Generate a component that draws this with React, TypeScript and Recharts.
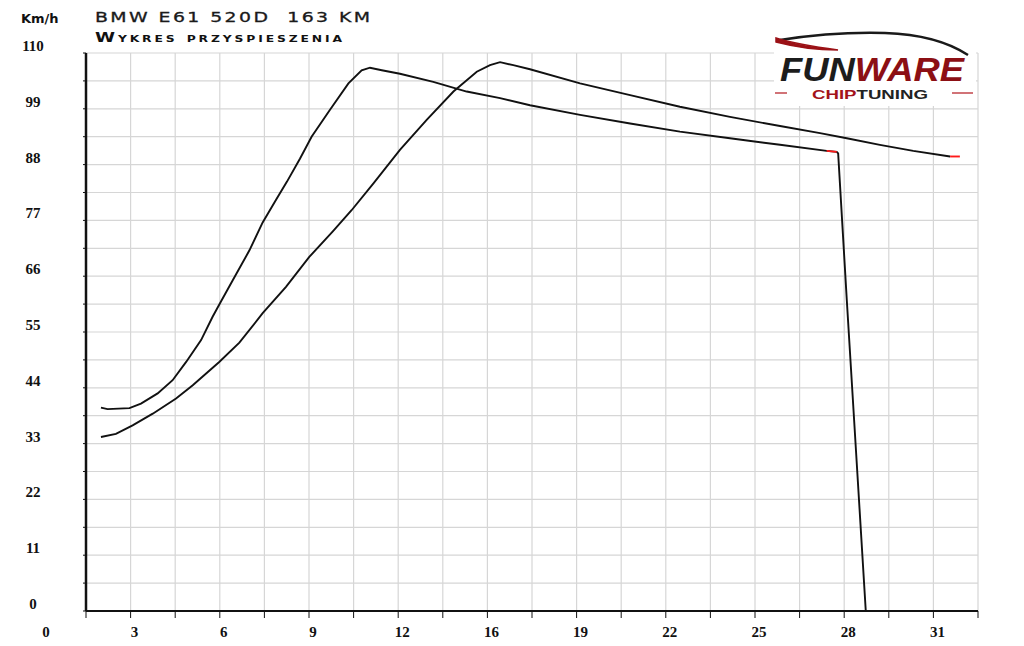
import React from "react";
import { CartesianGrid, Line, LineChart, XAxis, YAxis } from "recharts";

const accelA = [
  { t: 2.07, v: 40.1 }, { t: 2.3, v: 39.8 }, { t: 3.06, v: 40.0 }, { t: 3.46, v: 40.9 },
  { t: 4.04, v: 42.9 }, { t: 4.56, v: 45.5 }, { t: 5.03, v: 49.1 }, { t: 5.55, v: 53.4 },
  { t: 5.95, v: 58.0 }, { t: 6.24, v: 61.0 }, { t: 6.65, v: 65.2 }, { t: 7.23, v: 71.1 },
  { t: 7.69, v: 76.6 }, { t: 8.15, v: 81.0 }, { t: 8.53, v: 84.6 }, { t: 8.99, v: 89.2 },
  { t: 9.39, v: 93.5 }, { t: 10.03, v: 98.8 }, { t: 10.67, v: 104.0 }, { t: 11.13, v: 106.6 },
  { t: 11.42, v: 107.1 }, { t: 11.83, v: 106.6 }, { t: 12.46, v: 105.9 }, { t: 13.62, v: 104.3 },
  { t: 14.78, v: 102.4 }, { t: 15.94, v: 101.1 }, { t: 16.98, v: 99.7 }, { t: 18.72, v: 97.8 },
  { t: 20.46, v: 96.1 }, { t: 22.19, v: 94.5 }, { t: 23.93, v: 93.2 }, { t: 25.67, v: 91.9 },
  { t: 27.29, v: 90.7 }, { t: 27.64, v: 90.5 }, { t: 27.69, v: 90.2 }, { t: 27.99, v: 61.3 },
  { t: 28.65, v: 0 },
];

const accelB = [
  { t: 2.07, v: 34.3 }, { t: 2.59, v: 34.9 }, { t: 3.17, v: 36.6 }, { t: 3.87, v: 38.9 },
  { t: 4.68, v: 41.9 }, { t: 5.26, v: 44.5 }, { t: 6.18, v: 49.1 }, { t: 6.88, v: 52.9 },
  { t: 7.69, v: 58.7 }, { t: 8.5, v: 63.9 }, { t: 9.31, v: 69.8 }, { t: 10.12, v: 74.8 },
  { t: 10.78, v: 79.0 }, { t: 11.54, v: 84.3 }, { t: 12.46, v: 90.9 }, { t: 13.39, v: 96.8 },
  { t: 14.32, v: 102.4 }, { t: 15.13, v: 106.3 }, { t: 15.59, v: 107.6 }, { t: 15.94, v: 108.2 },
  { t: 16.4, v: 107.6 }, { t: 16.98, v: 106.8 }, { t: 18.72, v: 104.0 }, { t: 20.46, v: 101.7 },
  { t: 22.19, v: 99.4 }, { t: 23.93, v: 97.4 }, { t: 25.67, v: 95.6 }, { t: 27.06, v: 94.2 },
  { t: 27.99, v: 93.2 }, { t: 29.14, v: 91.9 }, { t: 30.3, v: 90.7 }, { t: 31.58, v: 89.6 },
];

// czerwone koncowki krzywych
const accelAEnd = [{ t: 27.29, v: 90.7 }, { t: 27.64, v: 90.5 }];
const accelBEnd = [{ t: 31.58, v: 89.6 }, { t: 31.92, v: 89.6 }];

const xTicks = [
  1.55, 3.1, 4.65, 6.2, 7.75, 9.3, 10.85, 12.4, 13.95, 15.5, 17.05,
  18.6, 20.15, 21.7, 23.25, 24.8, 26.35, 27.9, 29.45, 31, 32.55,
];
const xTickLabels = ["0", "3", "6", "9", "12", "16", "19", "22", "25", "28", "31"];

const yTicks = [
  0, 5.5, 11, 16.5, 22, 27.5, 33, 38.5, 44, 49.5, 55,
  60.5, 66, 71.5, 77, 82.5, 88, 93.5, 99, 104.5, 110,
];
const yTickLabels = ["0", "11", "22", "33", "44", "55", "66", "77", "88", "99", "110"];

const labelFont = {
  fontFamily: "'Liberation Serif', serif",
  fontWeight: 700,
  fontSize: 15,
  fill: "#111",
};

const XTick = (props: any) => {
  const { x, index } = props;
  if (index === 0) {
    return (
      <text x={46} y={637} textAnchor="middle" {...labelFont}>
        {xTickLabels[0]}
      </text>
    );
  }
  if (index % 2 === 0) return <g />;
  return (
    <text x={x + 4} y={637} textAnchor="middle" {...labelFont}>
      {xTickLabels[(index + 1) / 2]}
    </text>
  );
};

const YTick = (props: any) => {
  const { y, index } = props;
  if (index % 2 !== 0) return <g />;
  return (
    <text x={33} y={y - 2} textAnchor="middle" {...labelFont}>
      {yTickLabels[index / 2]}
    </text>
  );
};

const Overlay = () => (
  <svg
    width={1024}
    height={646}
    style={{ position: "absolute", left: 0, top: 0, pointerEvents: "none" }}
  >
    <text x={21} y={23} fontFamily="'DejaVu Sans', sans-serif" fontWeight={700} fontSize={13} fill="#111">
      Km/h
    </text>
    <g transform="translate(95,22) scale(1.35,1)">
      <text
        x={0}
        y={0}
        fontFamily="'DejaVu Sans', sans-serif"
        fontSize={14}
        fill="#1a1a1a"
        stroke="#1a1a1a"
        strokeWidth={0.3}
        textLength={275 / 1.35}
        lengthAdjust="spacing"
        style={{ whiteSpace: "pre" }}
      >
        {"BMW E61 520D  163 KM"}
      </text>
    </g>
    <g transform="translate(95,42) scale(1.3,1)">
      <text
        x={0}
        y={0}
        fontFamily="'DejaVu Sans', sans-serif"
        fontSize={14}
        fontWeight={700}
        fill="#111"
        textLength={247 / 1.3}
        lengthAdjust="spacing"
        style={{ fontVariant: "small-caps" }}
      >
        Wykres przyspieszenia
      </text>
    </g>

    {/* logo */}
    <rect x={774} y={26} width={202} height={80} fill="#fff" />
    <path
      d="M780 40 C 812 35, 850 32, 885 33 C 915 34, 945 40, 968 55"
      fill="none"
      stroke="#1a1a1a"
      strokeWidth={2.5}
    />
    <path
      d="M776 38 C 795 44, 815 47, 838 50 C 815 50, 795 47, 776 42 Z"
      fill="#9b1116"
      stroke="#9b1116"
      strokeWidth={1.5}
    />
    <text
      x={780}
      y={81}
      fontFamily="'Liberation Sans', Arial, sans-serif"
      fontWeight={700}
      fontStyle="italic"
      fontSize={33}
      textLength={184}
      lengthAdjust="spacingAndGlyphs"
    >
      <tspan fill="#1c1c1c">FUN</tspan>
      <tspan fill="#8c0f14">WARE</tspan>
    </text>
    <text
      x={812}
      y={99}
      fontFamily="'Liberation Sans', Arial, sans-serif"
      fontWeight={700}
      fontSize={13}
      textLength={116}
      lengthAdjust="spacingAndGlyphs"
    >
      <tspan fill="#a3121a">CHIP</tspan>
      <tspan fill="#222">TUNING</tspan>
    </text>
    <line x1={775} y1={93} x2={787} y2={93} stroke="#b3151c" strokeWidth={1.2} />
    <line x1={952} y1={93} x2={973} y2={93} stroke="#b3151c" strokeWidth={1.2} />
  </svg>
);

export default function App() {
  return (
    <div style={{ position: "absolute", left: 0, top: 0, width: 1024, height: 646, background: "#fff" }}>
      <LineChart
        width={1024}
        height={646}
        margin={{ top: 53, right: 46, bottom: 5, left: 26 }}
      >
        <CartesianGrid stroke="#d6d6d6" strokeWidth={1.2} />
        <XAxis
          dataKey="t"
          type="number"
          domain={[1.55, 32.55]}
          ticks={xTicks}
          interval={0}
          allowDataOverflow
          height={30}
          tickSize={7}
          axisLine={{ stroke: "#111", strokeWidth: 2 }}
          tickLine={{ stroke: "#111", strokeWidth: 1 }}
          tick={<XTick />}
        />
        <YAxis
          dataKey="v"
          type="number"
          domain={[0, 110]}
          ticks={yTicks}
          interval={0}
          allowDataOverflow
          width={60}
          tickSize={3}
          axisLine={{ stroke: "#111", strokeWidth: 2.5 }}
          tickLine={{ stroke: "#111", strokeWidth: 1 }}
          tick={<YTick />}
        />
        <Line data={accelA} dataKey="v" type="linear" stroke="#111" strokeWidth={1.9} dot={false} isAnimationActive={false} />
        <Line data={accelB} dataKey="v" type="linear" stroke="#111" strokeWidth={1.9} dot={false} isAnimationActive={false} />
        <Line data={accelAEnd} dataKey="v" type="linear" stroke="#ff1a1a" strokeWidth={1.9} dot={false} isAnimationActive={false} />
        <Line data={accelBEnd} dataKey="v" type="linear" stroke="#ff1a1a" strokeWidth={1.9} dot={false} isAnimationActive={false} />
      </LineChart>
      <Overlay />
    </div>
  );
}
